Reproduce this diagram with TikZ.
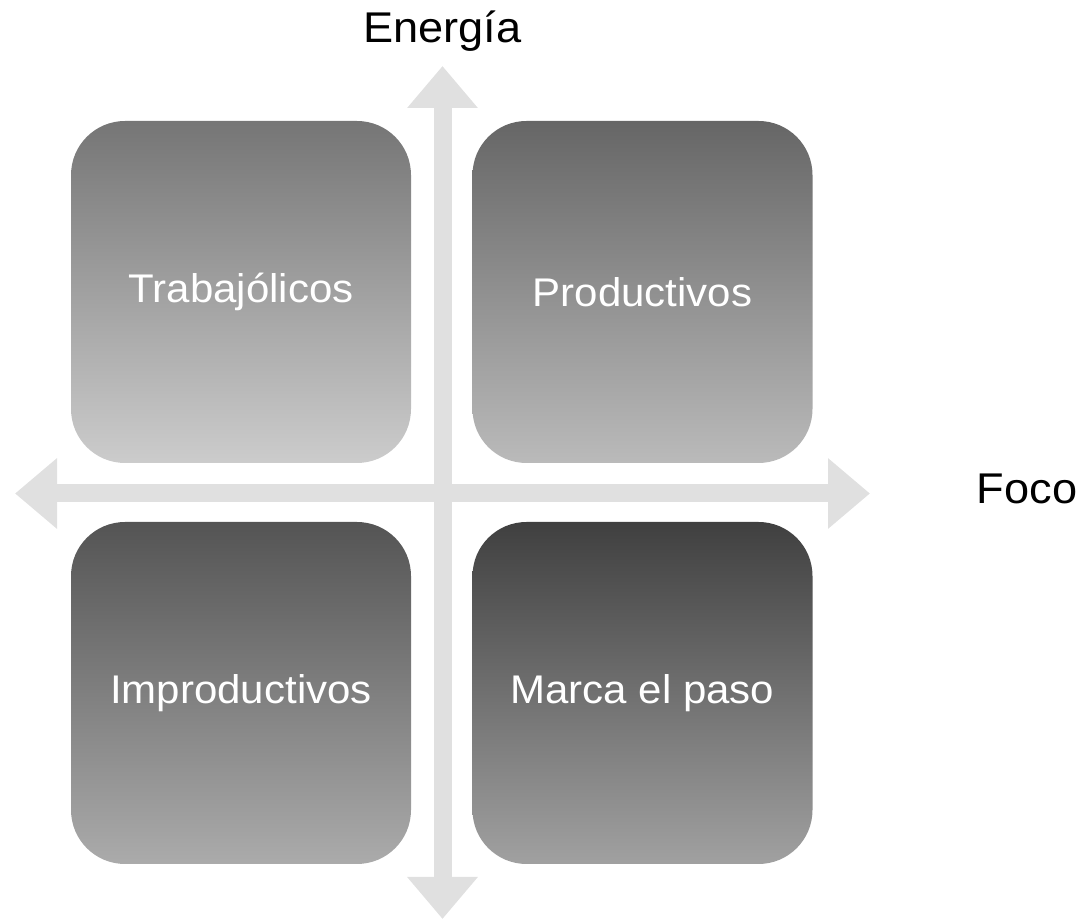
\documentclass[tikz,border=0pt]{standalone}
\usepackage{fontspec}
\setmainfont[FakeStretch=1.05]{Liberation Sans}
\usetikzlibrary{arrows.meta}
\definecolor{ejegris}{gray}{0.88}
\tikzstyle{cuad}=[rectangle, rounded corners=27pt, minimum width=170pt, minimum height=171pt, inner sep=0pt, outer sep=0pt, text=white, font=\fontsize{20}{24}\selectfont]
\tikzstyle{flecha}=[draw=ejegris, line width=9pt, {Triangle[width=34pt,length=21pt]}-{Triangle[width=34pt,length=21pt]}]

\begin{document}
\begin{tikzpicture}[x=0.5pt,y=-0.5pt]
  \useasboundingbox (0,0) rectangle (1084,919);
  \coordinate (izq) at (15,493.5);
  \coordinate (der) at (870,493.5);
  \coordinate (arriba) at (442.5,66);
  \coordinate (abajo) at (442.5,919);
  \draw[flecha] (izq) -- (der);
  \draw[flecha] (abajo) -- (arriba);
  \node[cuad, top color=black!54, bottom color=black!20] (trab) at (241,292) {Trabajólicos};
  \node[cuad, top color=black!60, bottom color=black!27] (prod) at (642.5,292) {Productivos};
  \node[cuad, top color=black!67, bottom color=black!33] (impr) at (241,693) {Improductivos};
  \node[cuad, top color=black!75, bottom color=black!37] (paso) at (642.5,693) {Marca el paso};
  \node[font=\fontsize{21.5}{26}\selectfont] (energia) at (442.5,31) {Energía};
  \node[font=\fontsize{21.5}{26}\selectfont] (foco) at (1027,489) {Foco};
\end{tikzpicture}
\end{document}
